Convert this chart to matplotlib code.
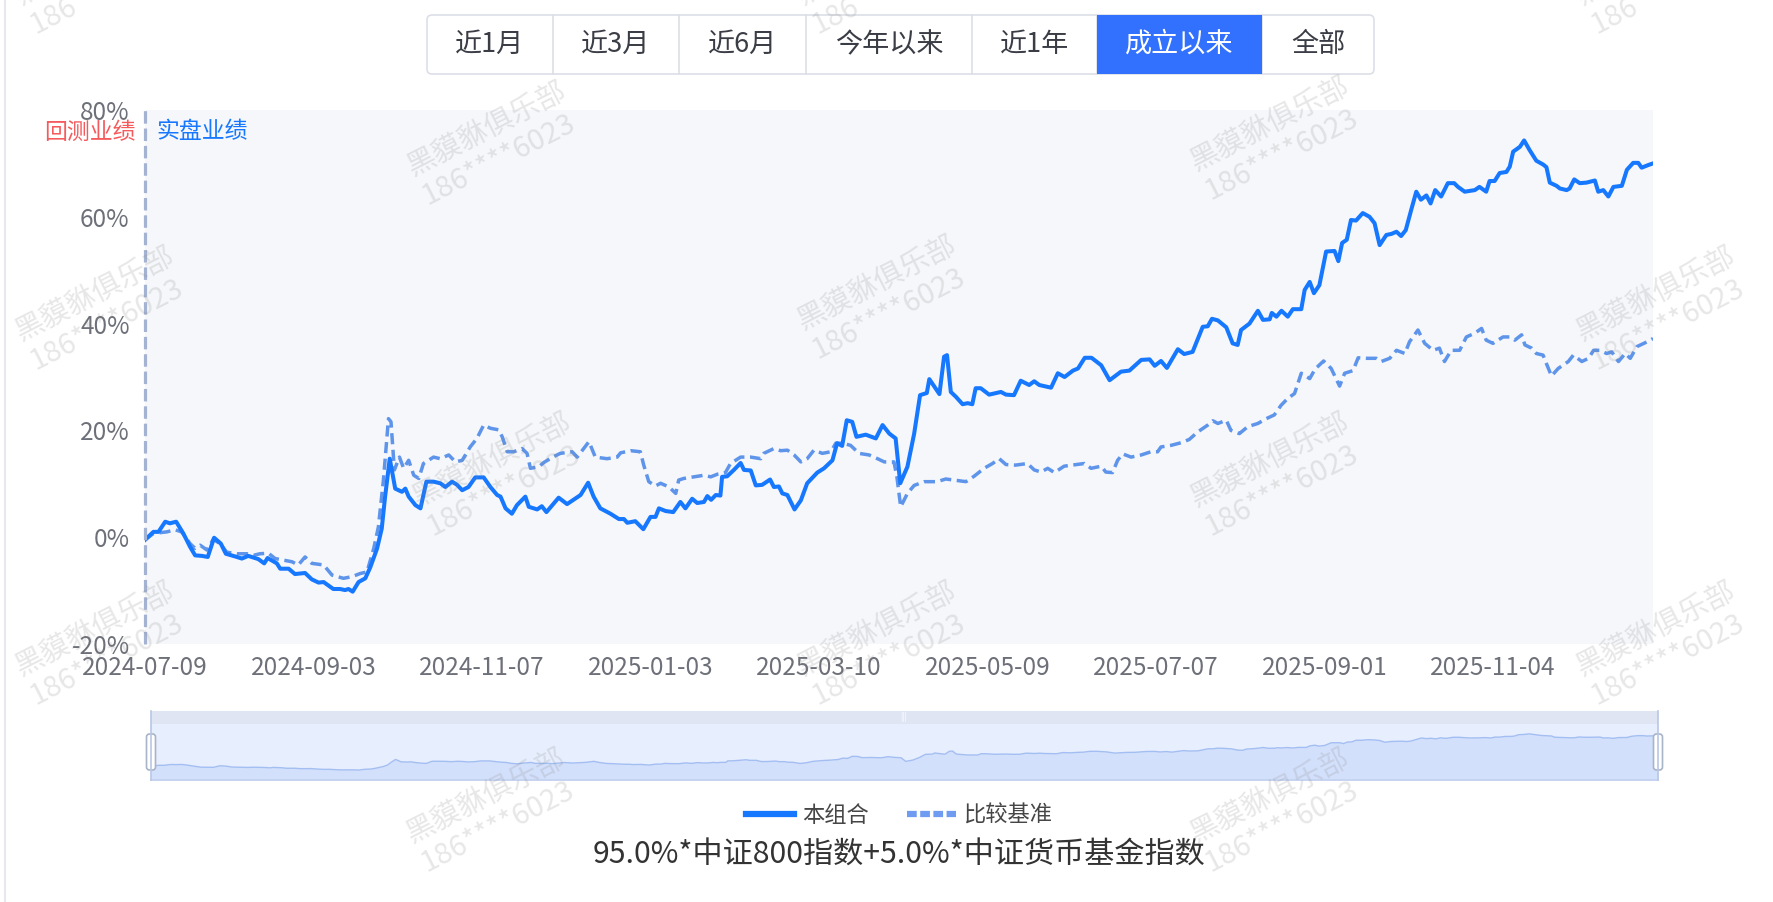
import matplotlib
matplotlib.use('Agg')
import matplotlib.pyplot as plt
from matplotlib.patches import FancyBboxPatch, Rectangle
from matplotlib.lines import Line2D

plt.rcParams['font.family'] = ['Noto Sans CJK SC', 'DejaVu Sans']
plt.rcParams['lines.scale_dashes'] = False

W, H = 1774, 902

rangeButtons = ['近1月', '近3月', '近6月', '今年以来', '近1年', '成立以来', '全部']
selectedButton = '成立以来'
dateTicks = [0, 40, 80, 120, 160, 200, 240, 280, 320]
dateLabels = ['2024-07-09', '2024-09-03', '2024-11-07', '2025-01-03', '2025-03-10',
              '2025-05-09', '2025-07-07', '2025-09-01', '2025-11-04']
yTicks = [-20, 0, 20, 40, 60, 80]
seriesNames = ['本组合', '比较基准']
benchName = '95.0%*中证800指数+5.0%*中证货币基金指数'
wmText = '黑貘貅俱乐部\n186****6023'

# trading day index, cumulative return in %
portfolioDay = [0, 2.0, 3.2, 4.8, 5.9, 7.4, 9.1, 10.7, 11.9, 13.5, 14.9, 16.4, 18.0, 19.2, 21.8,
                23.0, 24.5, 26.9, 28.3, 29.1, 31.3, 32.1, 34.1, 35.6, 38.0, 39.6, 41.2, 42.4, 44.7,
                46.3, 47.5, 48.3, 49.3, 50.7, 52.3, 53.5, 55.1, 56.2, 57.0, 58.1, 59.4, 61.0, 61.8,
                62.6, 64.2, 65.4, 66.8, 68.5, 70.1, 71.3, 72.9, 74.1, 75.3, 76.8, 78.4, 80.4, 82.0,
                83.6, 84.4, 85.6, 87.1, 88.3, 90.3, 91.1, 93.1, 94.2, 95.3, 98.2, 100.2, 103.4,
                105.2, 106.5, 108.1, 110.5, 112.5, 113.7, 114.5, 116.4, 118.3, 120.0, 121.2, 122.0,
                123.6, 125.4, 127.1, 128.3, 129.9, 131.1, 132.7, 133.5, 134.4, 135.5, 136.6, 137.0,
                138.2, 139.8, 141.4, 142.2, 143.8, 145.0, 146.5, 148.4, 149.3, 150.5, 151.3, 152.5,
                154.2, 155.7, 157.2, 159.6, 161.2, 163.2, 164.3, 165.5, 166.6, 167.9, 168.9, 171.1,
                173.5, 175.1, 176.7, 178.2, 179.3, 181.0, 182.6, 184.0, 185.6, 186.2, 188.6, 189.7,
                190.4, 191.3, 192.5, 194.1, 195.3, 196.4, 197.2, 198.4, 200.4, 203.2, 204.4, 206.3,
                207.9, 209.9, 211.1, 212.3, 215.1, 216.7, 218.3, 220.3, 221.5, 223.1, 224.7, 227.0,
                229.0, 231.7, 233.7, 236.5, 238.5, 239.7, 241.2, 242.6, 245.2, 246.7, 248.7, 251.1,
                252.3, 253.3, 254.7, 256.7, 258.2, 259.4, 260.2, 262.2, 264.2, 265.4, 267.0, 267.5,
                268.6, 269.8, 271.3, 272.5, 274.5, 275.3, 276.5, 277.5, 278.8, 280.4, 282.4, 283.3,
                284.2, 285.3, 286.3, 287.5, 289.1, 290.7, 291.9, 293.1, 294.7, 295.9, 297.1, 298.2,
                299.3, 300.6, 301.8, 302.9, 304.2, 305.2, 306.3, 307.7, 309.3, 310.8, 311.7, 313.3,
                315.7, 316.8, 318.4, 319.2, 320.4, 321.6, 323.2, 324.0, 324.8, 326.4, 327.4, 328.7,
                330.3, 331.9, 332.7, 333.5, 335.1, 335.9, 337.5, 338.2, 339.3, 340.6, 342.2, 344.2,
                345.0, 346.2, 347.4, 348.6, 350.6, 351.8, 353.3, 354.5, 355.3, 356.9, 358.0]
portfolioPct = [-0.5, 1.0, 1.0, 2.9, 2.6, 2.9, 0.7, -1.8, -3.4, -3.5, -3.7, -0.1, -1.2, -3.1, -3.7,
                -4.0, -3.5, -4.1, -4.9, -3.9, -4.9, -5.9, -5.9, -6.9, -6.7, -7.9, -8.5, -8.4, -9.7,
                -9.7, -9.9, -9.7, -10.2, -8.4, -7.7, -5.6, -2.1, 1.6, 7.6, 14.7, 9.1, 8.5, 9.1,
                7.6, 6.0, 5.4, 10.4, 10.4, 10.1, 9.4, 10.4, 9.8, 8.8, 9.4, 11.2, 11.2, 9.4,
                7.9, 7.6, 5.4, 4.4, 6.0, 7.6, 5.7, 5.2, 5.8, 4.7, 7.4, 6.2, 7.9,
                10.2, 7.6, 5.4, 4.4, 3.4, 3.4, 2.7, 3.0, 1.5, 3.8, 3.8, 5.4,
                4.9, 4.7, 6.6, 5.4, 7.2, 6.4, 6.6, 7.7, 7.0, 7.9, 7.8, 11.3,
                11.4, 12.6, 13.9, 12.6, 12.5, 9.7, 9.8, 10.8, 9.4, 9.5, 8.2, 7.9,
                5.2, 6.9, 10.1, 12.1, 12.9, 14.4, 17.6, 17.1, 21.9, 21.6, 18.8, 19.2,
                18.5, 21.0, 19.4, 18.5, 10.1, 13.2, 19.4, 26.6, 27.0, 29.6, 26.8, 33.8,
                34.1, 27.2, 26.3, 24.9, 25.1, 24.9, 27.9, 27.9, 26.7, 27.2, 26.7, 26.6,
                29.3, 28.5, 29.2, 28.5, 28.0, 30.7, 30.0, 31.2, 31.6, 33.6, 33.6, 32.2,
                29.4, 31.0, 31.2, 33.2, 33.3, 32.1, 33.0, 31.7, 35.2, 34.3, 34.7, 39.4,
                39.5, 40.9, 40.6, 39.3, 36.3, 36.0, 38.8, 40.0, 42.4, 40.7, 40.8, 42.0,
                41.3, 42.4, 41.3, 42.7, 42.7, 46.3, 47.8, 45.7, 47.2, 53.5, 53.6, 51.7,
                55.1, 55.7, 59.4, 59.3, 60.7, 60.0, 58.8, 54.7, 56.6, 56.8, 57.2, 56.4,
                57.5, 61.3, 64.7, 63.2, 64.0, 62.5, 65.0, 63.8, 66.3, 66.3, 65.6, 64.7,
                65.0, 65.6, 64.7, 66.7, 66.7, 68.2, 68.4, 69.4, 72.2, 73.1, 74.3, 72.5,
                70.5, 69.8, 69.3, 66.4, 65.8, 65.3, 65.0, 65.3, 67.0, 66.3, 66.4, 66.8,
                64.7, 65.0, 63.8, 65.6, 65.8, 68.8, 70.1, 70.1, 69.2, 69.7, 70.0]

benchDay = [0, 2.0, 5.2, 7.1, 8.7, 10.7, 11.9, 13.1, 14.7, 16.2, 17.8, 19.4, 21.8, 24.2, 25.7,
            27.3, 29.3, 30.9, 32.9, 34.9, 36.4, 38.0, 39.6, 42.4, 44.4, 47.1, 49.1, 51.1, 52.7,
            54.3, 55.4, 56.6, 57.8, 58.4, 59.2, 60.4, 61.4, 62.6, 63.8, 65.0, 66.1, 68.5, 70.1,
            72.1, 73.7, 75.3, 77.2, 78.8, 80.4, 82.0, 84.0, 84.8, 86.0, 87.5, 89.5, 90.7, 91.5,
            93.5, 94.7, 96.8, 98.6, 101.4, 102.6, 105.4, 106.9, 109.7, 112.1, 112.9, 115.3,
            117.6, 118.4, 119.6, 121.2, 122.4, 124.4, 126.0, 126.7, 127.9, 130.3, 132.7, 134.3,
            135.9, 137.8, 139.0, 141.4, 143.8, 146.2, 146.9, 149.3, 150.9, 152.5, 154.1, 155.7,
            157.2, 158.8, 160.8, 162.8, 164.0, 165.6, 167.5, 169.5, 171.9, 173.9, 175.5, 177.8,
            178.5, 179.4, 181.0, 182.6, 185.0, 188.1, 190.1, 192.1, 194.9, 196.8, 199.2, 201.2,
            202.8, 204.4, 206.7, 209.5, 211.1, 212.7, 214.3, 215.9, 218.2, 220.2, 223.0, 224.6,
            227.0, 228.1, 229.7, 230.9, 232.1, 234.1, 236.5, 238.8, 240.4, 241.2, 243.6, 246.0,
            247.9, 249.9, 252.3, 253.5, 254.7, 256.7, 257.8, 259.8, 261.8, 264.2, 266.2, 268.1,
            269.7, 271.3, 272.9, 274.5, 276.5, 277.8, 279.8, 281.6, 283.6, 284.8, 286.8, 288.0,
            290.0, 292.3, 293.5, 295.5, 297.1, 299.1, 300.2, 302.2, 303.8, 305.8, 307.3, 308.5,
            310.1, 312.1, 313.7, 315.7, 317.3, 318.4, 320.0, 322.4, 324.0, 325.2, 326.8, 327.6,
            329.2, 330.3, 331.9, 332.7, 333.9, 335.5, 337.9, 339.1, 341.1, 342.7, 343.9, 345.4,
            347.0, 348.2, 349.8, 351.4, 352.6, 354.2, 356.1, 358.0]
benchPct = [-0.5, 0.7, 1.0, 1.4, 1.0, -1.2, -2.1, -1.5, -2.4, -0.4, -1.2, -2.8, -3.1, -3.1, -3.4,
            -3.1, -3.0, -4.0, -4.3, -4.6, -5.2, -3.7, -4.9, -5.2, -7.1, -7.7, -7.4, -6.8, -6.5,
            -2.1, 1.9, 10.7, 22.2, 21.6, 12.6, 15.0, 12.9, 14.4, 11.6, 11.0, 13.8, 15.0, 14.7,
            15.4, 14.1, 14.4, 16.9, 18.5, 21.0, 20.4, 20.1, 18.8, 16.0, 16.0, 16.6, 15.7, 12.9,
            13.2, 14.0, 15.0, 15.7, 16.0, 15.0, 17.9, 15.0, 14.7, 15.0, 15.8, 16.2,
            16.0, 13.5, 10.4, 9.6, 10.1, 9.4, 8.2, 10.7, 11.0, 11.3, 11.6, 11.3,
            11.8, 12.1, 13.8, 15.0, 15.0, 14.7, 15.7, 16.6, 16.2, 16.3, 15.4, 14.1,
            14.7, 16.3, 15.7, 16.0, 17.6, 17.6, 17.2, 15.7, 15.4, 14.7, 14.1, 14.1,
            11.3, 5.7, 8.2, 9.7, 10.4, 10.4, 10.9, 10.7, 10.4, 11.4, 12.9, 13.8,
            14.7, 13.6, 13.5, 13.8, 12.6, 12.2, 12.9, 12.1, 13.3, 13.5, 13.8, 12.9,
            13.3, 12.2, 12.1, 14.4, 15.6, 15.0, 15.4, 16.0, 16.0, 16.9, 17.2, 17.7,
            18.3, 19.7, 21.0, 21.8, 21.3, 21.9, 20.0, 19.4, 20.7, 21.3, 22.2, 22.9,
            24.7, 26.0, 26.9, 30.7, 29.7, 31.5, 33.0, 31.6, 28.3, 30.7, 31.2, 33.6,
            33.5, 33.5, 32.9, 33.5, 35.0, 34.4, 36.6, 38.8, 36.3, 35.0, 35.4, 32.9,
            35.0, 35.0, 37.5, 38.2, 39.1, 36.9, 36.3, 37.5, 37.5, 36.9, 37.9, 36.0,
            35.4, 34.4, 34.1, 32.5, 30.2, 31.6, 32.9, 34.1, 32.9, 33.5, 35.0, 35.0,
            34.4, 34.7, 32.9, 34.4, 33.5, 35.7, 36.4, 37.2]

mainBlue = '#1677ff'
benchBlue = '#5e94ea'
tickGray = '#6e7079'


def box(x0, y0, x1, y1):
    # pixel box (top-left origin) -> figure fraction
    return [x0 / W, 1 - y1 / H, (x1 - x0) / W, (y1 - y0) / H]


fig = plt.figure(figsize=(W / 100, H / 100), dpi=100)
fig.patch.set_facecolor('white')

bg = fig.add_axes([0, 0, 1, 1], zorder=0)
bg.set_xlim(0, W)
bg.set_ylim(H, 0)
bg.axis('off')
bg.plot([5, 5], [0, H], color='#e6e8ee', lw=1.5)

# range buttons
btnEdges = [427, 553, 679, 806, 972, 1097, 1262, 1374]
btnTop, btnBot = 15, 74
bg.add_patch(FancyBboxPatch((btnEdges[0], btnTop), btnEdges[-1] - btnEdges[0], btnBot - btnTop,
                            boxstyle='round,pad=0,rounding_size=5', fc='white', ec='#dcdfe6', lw=1.2))
for i, name in enumerate(rangeButtons):
    x0, x1 = btnEdges[i], btnEdges[i + 1]
    if name == selectedButton:
        bg.add_patch(Rectangle((x0, btnTop), x1 - x0, btnBot - btnTop, fc='#3271fe', ec='none', zorder=3))
        col = 'white'
    else:
        col = '#3a3d45'
    if i > 0:
        bg.plot([x0, x0], [btnTop, btnBot], color='#dcdfe6', lw=1.2)
    bg.text((x0 + x1) / 2, (btnTop + btnBot) / 2, name, ha='center', va='center',
            fontsize=19.5, color=col, zorder=4)

# main chart
ax = fig.add_axes(box(145, 110, 1653, 644), zorder=1)
ax.set_facecolor('#f5f7fa')
ax.plot(benchDay, benchPct, color=benchBlue, lw=2.5, dashes=(8, 4), solid_capstyle='round')
ax.plot(portfolioDay, portfolioPct, color=mainBlue, lw=2.9, solid_joinstyle='round')
ax.axvline(0, color='#a5b3d3', lw=2.3, dashes=(9, 3.5), clip_on=False)
ax.set_xlim(0, 358)
ax.set_ylim(-20, 80)
ax.set_xticks(dateTicks)
ax.set_xticklabels(dateLabels)
ax.set_yticks(yTicks)
ax.set_yticklabels(['%d%%' % v for v in yTicks])
ax.tick_params(length=0, labelsize=17.5, labelcolor=tickGray)
ax.tick_params(axis='x', pad=8)
ax.tick_params(axis='y', pad=11)
for s in ax.spines.values():
    s.set_visible(False)

# data zoom slider
bg.add_patch(Rectangle((151, 711), 1507, 13, fc='#dfe5f2', ec='none'))
bg.text(904, 717, '|||', ha='center', va='center', fontsize=6, color='white')
mini = fig.add_axes(box(151, 724, 1658, 780), zorder=1)
mini.set_facecolor('#e7eefd')
mini.fill_between(portfolioDay, portfolioPct, -40, color='#d3e0fb', lw=0)
mini.plot(portfolioDay, portfolioPct, color='#a3bef2', lw=1)
mini.set_xlim(0, 358)
mini.set_ylim(-33.3, 97.3)
mini.set_xticks([])
mini.set_yticks([])
for s in mini.spines.values():
    s.set_visible(False)

top = fig.add_axes([0, 0, 1, 1], zorder=5)
top.set_xlim(0, W)
top.set_ylim(H, 0)
top.axis('off')
top.patch.set_alpha(0)
top.plot([151, 1658], [780, 780], color='#c4d2ef', lw=1.2)
top.plot([151, 151], [711, 780], color='#b9c7e6', lw=1.2)
top.plot([1658, 1658], [711, 780], color='#b9c7e6', lw=1.2)
for hx in [151, 1658]:
    top.add_patch(FancyBboxPatch((hx - 4.5, 734), 9, 36, boxstyle='round,pad=0,rounding_size=3',
                                 fc='white', ec='#a8b4c8', lw=1.2))

top.text(136, 132, '回测业绩', ha='right', va='center', fontsize=16.5, color='#f55a5c')
top.text(156, 132, '实盘业绩', ha='left', va='center', fontsize=16.5, color=mainBlue)

# legend and benchmark name
hSolid = Line2D([], [], color=mainBlue, lw=4.5)
hDash = Line2D([], [], color='#6f9cf0', lw=4.5, dashes=(7, 2.5))
fig.legend([hSolid, hDash], seriesNames, loc='center', bbox_to_anchor=(899 / W, 1 - 815 / H),
           ncol=2, frameon=False, fontsize=16, handlelength=2.2, handletextpad=0.35,
           columnspacing=1.7, labelcolor='#464646')
bg.text(899, 855, benchName, ha='center', va='center', fontsize=21.7, color='#333333')

# watermarks
wmSpots = [(102, -27), (884, -27), (1663, -27),
           (494, 144), (1277, 139),
           (102, 309), (884, 298), (1663, 309),
           (499, 475), (1277, 475),
           (102, 644), (884, 644), (1663, 644),
           (493, 811), (1277, 811)]
for wx, wy in wmSpots:
    top.text(wx, wy, wmText, rotation=27, rotation_mode='anchor', ha='center', va='center',
             multialignment='left', fontsize=21, color='#888888', alpha=0.2, linespacing=1.1)

fig.savefig('out.png', dpi=100)
